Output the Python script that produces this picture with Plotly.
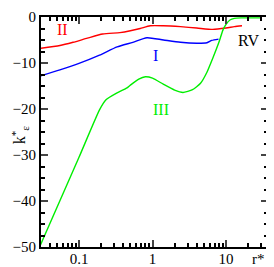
import math
import plotly.graph_objects as go

# Curve II (red)
x_II = [0.03, 0.055, 0.083, 0.13, 0.21, 0.36, 0.5, 0.68, 0.93, 1.4, 2.4, 4.0, 6.6, 10.0, 13.0, 16.5]
y_II = [-6.8, -6.2, -5.5, -4.6, -3.7, -3.4, -3.0, -2.5, -1.9, -1.9, -2.1, -2.4, -2.7, -2.4, -2.1, -1.9]

# Curve I (blue)
x_I = [0.03, 0.055, 0.1, 0.19, 0.33, 0.54, 0.84, 1.41, 2.4, 4.0, 5.5, 6.4, 7.9]
y_I = [-12.8, -11.5, -10.1, -8.3, -6.5, -5.5, -4.5, -5.0, -5.5, -5.7, -5.6, -5.1, -4.8]

# Curve III (green)
x_III = [0.03, 0.1, 0.19, 0.233, 0.33, 0.45, 0.5, 0.65, 0.8, 1.0, 1.4, 2.0, 2.6, 3.5, 4.5, 5.5, 6.7, 8.0, 9.1, 10.0, 11.3, 13.0, 16.0, 20.0, 29.0]
y_III = [-49.5, -30.5, -20.2, -18.0, -16.5, -15.4, -14.8, -13.5, -13.0, -13.3, -14.6, -15.9, -16.4, -15.8, -14.4, -12.0, -8.7, -5.5, -2.8, -1.6, -0.65, -0.3, -0.2, -0.2, -0.2]

x_ticks = [0.1, 1, 10]
x_tick_labels = ["0.1", "1", "10"]
x_minor = [0.04, 0.05, 0.06, 0.07, 0.08, 0.09,
           0.2, 0.3, 0.4, 0.5, 0.6, 0.7, 0.8, 0.9,
           2, 3, 4, 5, 6, 7, 8, 9, 20, 30]
y_ticks = [0, -10, -20, -30, -40, -50]

FONT = "Liberation Serif, Times New Roman, serif"

fig = go.Figure()
fig.add_trace(go.Scatter(x=x_II, y=y_II, mode="lines", line=dict(color="#ff0000", width=1.4, shape="spline", smoothing=0.6)))
fig.add_trace(go.Scatter(x=x_I, y=y_I, mode="lines", line=dict(color="#0000ff", width=1.4, shape="spline", smoothing=0.6)))
fig.add_trace(go.Scatter(x=x_III, y=y_III, mode="lines", line=dict(color="#00ee00", width=1.4, shape="spline", smoothing=0.5)))

ann_font = dict(family=FONT, size=16)
fig.add_annotation(x=math.log10(0.059), y=-2.8, text="II", showarrow=False, font=dict(ann_font, color="#ff0000"))
fig.add_annotation(x=math.log10(1.09), y=-8.3, text="I", showarrow=False, font=dict(ann_font, color="#0000ff"))
fig.add_annotation(x=math.log10(1.32), y=-20.2, text="III", showarrow=False, font=dict(ann_font, color="#00ee00"))
fig.add_annotation(x=math.log10(20.0), y=-5.0, text="RV", showarrow=False, font=dict(ann_font, color="#000000"))
fig.add_annotation(xref="paper", yref="paper", x=0.956, y=-0.052, xanchor="center", yanchor="middle",
                   text="r*", showarrow=False, font=dict(family=FONT, size=15, color="#000000"))
fig.add_annotation(xref="paper", yref="paper", x=-0.15, y=0.49, textangle=-90,
                   text="k<sup>*</sup><sub>ε</sub>", showarrow=False,
                   font=dict(family=FONT, size=16, color="#000000"))

fig.update_xaxes(type="log", range=[-1.517, 1.571], tickvals=x_ticks, ticktext=x_tick_labels,
                 ticks="inside", ticklen=7, tickwidth=1.5, mirror="ticks", showline=True,
                 linewidth=2, linecolor="black", showgrid=False, zeroline=False,
                 ticklabelstandoff=-3, automargin=False,
                 tickfont=dict(family=FONT, size=15, color="black"),
                 minor=dict(tickmode="array", tickvals=x_minor, ticks="inside", ticklen=4,
                            tickwidth=1.5, tickcolor="black", showgrid=False))
fig.update_yaxes(range=[-50, 0], tickvals=y_ticks, ticks="inside", ticklen=7, tickwidth=1.5,
                 mirror="ticks", showline=True, linewidth=2, linecolor="black",
                 showgrid=False, zeroline=False, automargin=False,
                 tickfont=dict(family=FONT, size=15, color="black"),
                 minor=dict(dtick=2.5, ticks="inside", ticklen=4, tickwidth=1.5, tickcolor="black", showgrid=False))

# page body adds an 8px offset, so the figure is sized to fit the 274x267 window
fig.update_layout(width=266, height=259, margin=dict(l=33, r=6, t=9, b=20),
                  paper_bgcolor="white", plot_bgcolor="white", showlegend=False)

fig.write_html("out.html")
